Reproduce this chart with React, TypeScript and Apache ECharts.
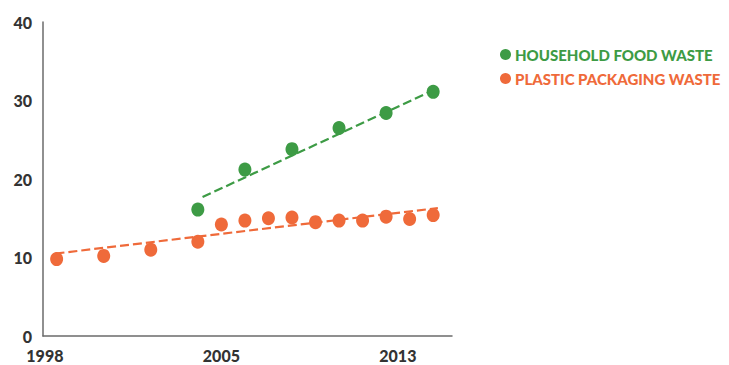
import React, { useEffect, useRef } from "react";
import * as echarts from "echarts";

const foodYears = [2004, 2006, 2008, 2010, 2012, 2014];
const foodValues = [16.1, 21.2, 23.8, 26.5, 28.4, 31.1];

const plasticYears = [1998, 2000, 2002, 2004, 2005, 2006, 2007, 2008, 2009, 2010, 2011, 2012, 2013, 2014];
const plasticValues = [9.8, 10.2, 11.0, 12.0, 14.2, 14.7, 15.0, 15.1, 14.5, 14.7, 14.7, 15.2, 14.9, 15.4];

const foodTrend = [
  [2004.2, 17.7],
  [2014.0, 31.3],
];
const plasticTrend = [
  [1997.95, 10.5],
  [2014.2, 16.3],
];

const xTickLabels = ["1998", "2005", "2013"];
const xTickAt = [1997.5, 2005, 2012.5];
const yTicks = [0, 10, 20, 30, 40];

const seriesNames = ["HOUSEHOLD FOOD WASTE", "PLASTIC PACKAGING WASTE"];

const GREEN = "#3d9b45";
const ORANGE = "#ef6a3a";
const AXIS = "#6b6b6b";
const TEXT = "#333333";
const FONT = "Lato, 'Open Sans', sans-serif";

export default function App() {
  const ref = useRef<HTMLDivElement>(null);

  useEffect(() => {
    if (!ref.current) return;
    const chart = echarts.init(ref.current, undefined, { renderer: "svg" });
    chart.setOption({
      animation: false,
      backgroundColor: "#ffffff",
      grid: { left: 43, right: 277, top: 22, bottom: 29, containLabel: false },
      legend: {
        orient: "vertical",
        left: 495,
        top: 42,
        itemWidth: 11,
        itemHeight: 11,
        itemGap: 9,
        icon: "circle",
        selectedMode: false,
        data: [
          { name: seriesNames[0], textStyle: { color: GREEN } },
          { name: seriesNames[1], textStyle: { color: ORANGE } },
        ],
        textStyle: { fontFamily: FONT, fontWeight: 900, fontSize: 15, padding: [0, 0, 0, -1] },
      },
      xAxis: {
        type: "value",
        min: 1997.42,
        max: 2014.8,
        splitLine: { show: false },
        axisTick: { show: false },
        axisLine: { show: true, lineStyle: { color: AXIS, width: 1.5 } },
        axisLabel: {
          customValues: xTickAt,
          formatter: (v: number) => {
            const i = xTickAt.indexOf(v);
            return i >= 0 ? xTickLabels[i] : "";
          },
          color: TEXT,
          fontFamily: FONT,
          fontWeight: 900,
          fontSize: 16,
          margin: 11,
        },
      },
      yAxis: {
        type: "value",
        min: yTicks[0],
        max: yTicks[yTicks.length - 1],
        interval: 10,
        splitLine: { show: false },
        axisTick: { show: false },
        axisLine: { show: true, lineStyle: { color: AXIS, width: 1.5 } },
        axisLabel: {
          color: TEXT,
          fontFamily: FONT,
          fontWeight: 900,
          fontSize: 16,
          margin: 11,
        },
      },
      series: [
        {
          name: "food-trend",
          type: "line",
          data: foodTrend,
          symbol: "none",
          lineStyle: { color: GREEN, width: 2.2, type: [9, 4] },
          silent: true,
          z: 1,
        },
        {
          name: "plastic-trend",
          type: "line",
          data: plasticTrend,
          symbol: "none",
          lineStyle: { color: ORANGE, width: 2.2, type: [9, 4] },
          silent: true,
          z: 1,
        },
        {
          name: seriesNames[0],
          type: "scatter",
          data: foodYears.map((y, i) => [y, foodValues[i]]),
          symbol: "circle",
          symbolSize: [13, 14],
          itemStyle: { color: GREEN, opacity: 1 },
          z: 2,
        },
        {
          name: seriesNames[1],
          type: "scatter",
          data: plasticYears.map((y, i) => [y, plasticValues[i]]),
          symbol: "circle",
          symbolSize: [13, 14],
          itemStyle: { color: ORANGE, opacity: 1 },
          z: 2,
        },
      ],
    });
    return () => chart.dispose();
  }, []);

  return (
    <div
      ref={ref}
      style={{ position: "fixed", left: 0, top: 0, width: 729, height: 365, background: "#fff" }}
    />
  );
}
